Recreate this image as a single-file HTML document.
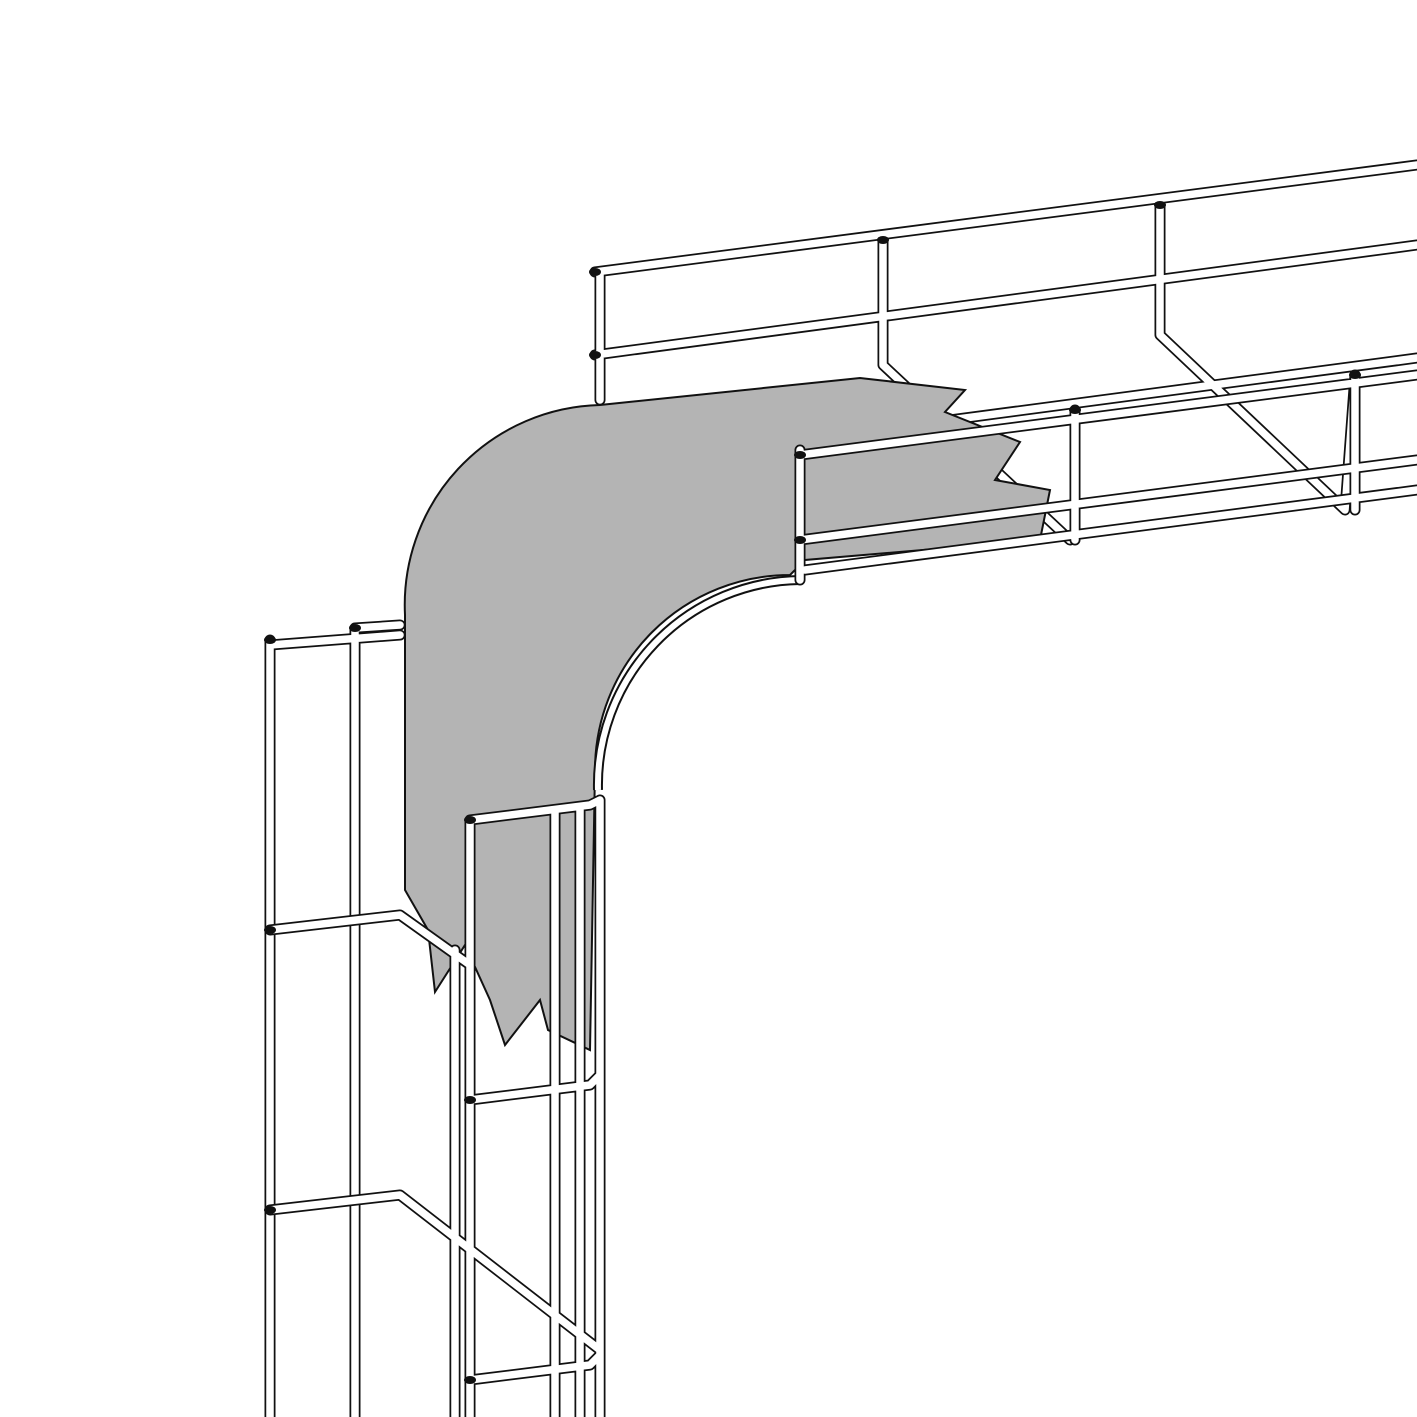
<!DOCTYPE html>
<html><head><meta charset="utf-8"><style>html,body{margin:0;padding:0;background:#fff}svg{display:block}</style></head>
<body>
<svg width="1417" height="1417" viewBox="0 0 1417 1417" xmlns="http://www.w3.org/2000/svg">
<rect width="1417" height="1417" fill="#fff"/>
<g fill="none" stroke="#111" stroke-width="11" stroke-linecap="round" stroke-linejoin="round">
<path fill="none" d="M595,272 L1417,165 M595,355 L1417,245 M883,240 L883,365 L1070,540 M1160,205 L1160,335 L1345,510 L1355,375 M600,272 L600,400 M950,420 L1417,358 M270,640 L270,1417 M355,628 L355,1417 M270,645 L400,635 M355,628 L400,625"/>
</g>
<g fill="none" stroke="#fff" stroke-width="7.5" stroke-linecap="round" stroke-linejoin="round">
<path fill="none" d="M595,272 L1417,165 M595,355 L1417,245 M883,240 L883,365 L1070,540 M1160,205 L1160,335 L1345,510 L1355,375 M600,272 L600,400 M950,420 L1417,358 M270,640 L270,1417 M355,628 L355,1417 M270,645 L400,635 M355,628 L400,625"/>
</g>
<path d="M405,890 L405,615 A200,200 0 0 1 600,405 L860,378 L965,390 L945,412 L1020,442 L995,480 L1050,490 L1040,540 L805,560 L790,575 A195,195 0 0 0 595,770 L590,1050 L548,1030 L540,1000 L505,1045 L490,1000 L465,945 L435,992 L428,930 Z" fill="#b4b4b4" stroke="#111" stroke-width="2"/>
<path d="M800,580 A205,205 0 0 0 598,790" fill="none" stroke="#111" stroke-width="10"/>
<path d="M800,580 A205,205 0 0 0 598,790" fill="none" stroke="#fff" stroke-width="6"/>
<g fill="none" stroke="#111" stroke-width="11" stroke-linecap="round" stroke-linejoin="round">
<path fill="none" d="M800,455 L1417,375 M800,540 L1417,460 M805,570 L1417,490 M800,450 L800,580 M1075,410 L1075,540 M1355,375 L1355,510 M470,820 L470,1417 M555,810 L555,1417 M580,810 L580,1417 M600,800 L600,1417 M470,820 L590,805 L600,800 M270,930 L400,915 L470,965 M270,1210 L400,1195 L600,1350 M470,1100 L590,1085 L600,1075 M470,1380 L590,1365 L600,1355 M455,950 L455,1417"/>
</g>
<g fill="none" stroke="#fff" stroke-width="7.5" stroke-linecap="round" stroke-linejoin="round">
<path fill="none" d="M800,455 L1417,375 M800,540 L1417,460 M805,570 L1417,490 M800,450 L800,580 M1075,410 L1075,540 M1355,375 L1355,510 M470,820 L470,1417 M555,810 L555,1417 M580,810 L580,1417 M600,800 L600,1417 M470,820 L590,805 L600,800 M270,930 L400,915 L470,965 M270,1210 L400,1195 L600,1350 M470,1100 L590,1085 L600,1075 M470,1380 L590,1365 L600,1355 M455,950 L455,1417"/>
</g>
<g fill="#111">
<ellipse cx="595" cy="272" rx="6" ry="4"/><ellipse cx="595" cy="355" rx="6" ry="4"/>
<ellipse cx="883" cy="240" rx="6" ry="4"/><ellipse cx="1160" cy="205" rx="6" ry="4"/>
<ellipse cx="800" cy="455" rx="6" ry="4"/><ellipse cx="800" cy="540" rx="6" ry="4"/>
<ellipse cx="1075" cy="410" rx="6" ry="4"/><ellipse cx="1355" cy="375" rx="6" ry="4"/>
<ellipse cx="270" cy="640" rx="6" ry="4"/><ellipse cx="355" cy="628" rx="6" ry="4"/>
<ellipse cx="270" cy="930" rx="6" ry="4"/><ellipse cx="270" cy="1210" rx="6" ry="4"/>
<ellipse cx="470" cy="820" rx="6" ry="4"/><ellipse cx="470" cy="1100" rx="6" ry="4"/>
<ellipse cx="470" cy="1380" rx="6" ry="4"/>
</g>
</svg>
</body></html>
